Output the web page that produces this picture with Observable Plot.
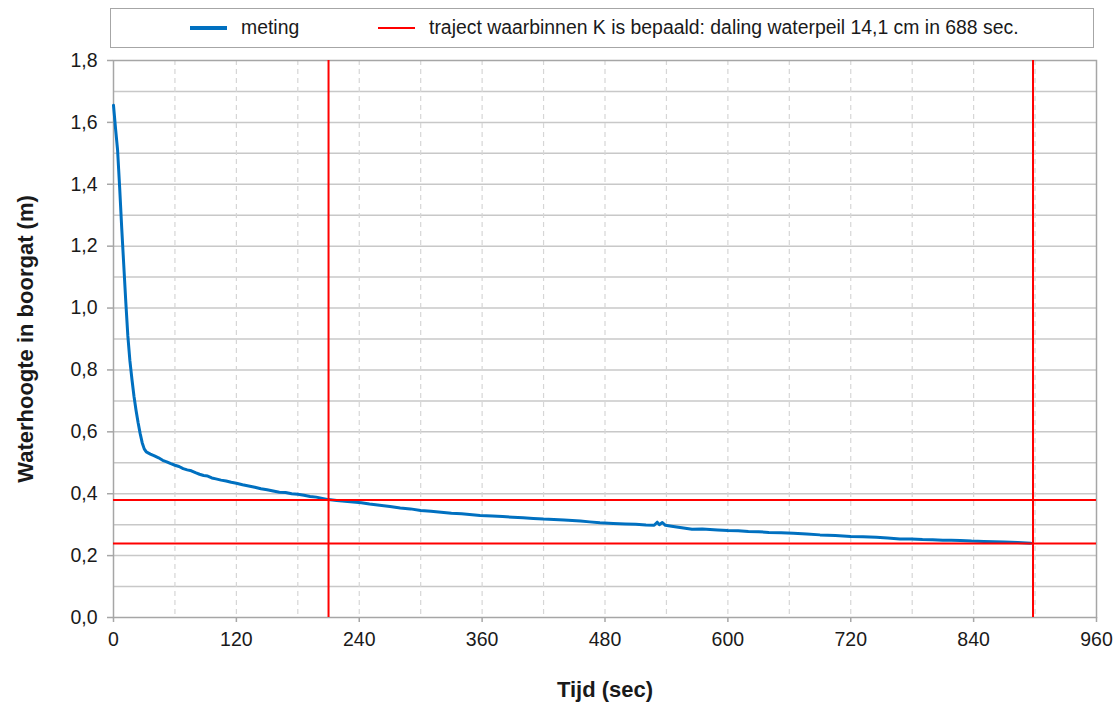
<!DOCTYPE html>
<html>
<head>
<meta charset="utf-8">
<script src="https://cdn.jsdelivr.net/npm/d3@7"></script>
<script src="https://cdn.jsdelivr.net/npm/@observablehq/plot@0.6"></script>
<style>
  html, body { margin: 0; padding: 0; background: #fff; }
  body { position: relative; width: 1120px; height: 713px; overflow: hidden; font-family: "Liberation Sans", Arial, sans-serif; color: #1a1a1a; }
  #chart { position: absolute; left: 0; top: 0; }
  #legend { position: absolute; left: 110px; top: 8px; width: 982px; height: 38px; border: 1.5px solid #a6a6a6; background: #fff; z-index: 2; }
  #legend .swatch { position: absolute; top: 19px; width: 37px; }
  #legend .label { position: absolute; top: 19px; transform: translateY(-50%); font-size: 19.4px; white-space: nowrap; line-height: 1; }
</style>
</head>
<body>
<div id="chart"></div>
<div id="legend">
  <div class="swatch" style="left:79px; border-top:4px solid #0070c0; margin-top:-2px;"></div>
  <div class="label" id="lab-meting" style="left:130px;"></div>
  <div class="swatch" style="left:267px; border-top:2px solid #ff0000; margin-top:-1px;"></div>
  <div class="label" id="lab-traject" style="left:318px;"></div>
</div>
<script>
// Measured water height in the borehole over time (seconds, metres)
const times = [
  0, 2, 4, 5, 6, 8, 10, 12, 14, 16, 18, 20, 22, 24, 26, 28, 30, 32, 36, 40,
  44, 48, 52, 56, 60, 64, 68, 72, 76, 80, 84, 88, 92, 96, 100, 105, 110, 115, 120, 126,
  132, 138, 144, 150, 156, 162, 168, 174, 180, 186, 192, 198, 204, 210, 218, 226, 234, 242, 250, 260,
  270, 280, 290, 300, 310, 320, 330, 340, 358, 370, 380, 390, 400, 410, 420, 430, 440, 456, 465, 475,
  488, 500, 510, 520, 528, 531, 533, 536, 539, 545, 555, 565, 575, 590, 600, 610, 620, 630, 640, 652,
  664, 677, 690, 705, 720, 732, 745, 756, 768, 779, 790, 800, 810, 818, 827, 838, 850, 860, 870, 883, 896
];
const heights = [
  1.655, 1.58, 1.51, 1.45, 1.39, 1.26, 1.14, 1.02, 0.91, 0.83, 0.77, 0.715, 0.67, 0.63, 0.595, 0.565, 0.545, 0.535, 0.528, 0.522,
  0.516, 0.508, 0.503, 0.497, 0.492, 0.488, 0.481, 0.477, 0.474, 0.468, 0.463, 0.459, 0.457, 0.451, 0.448, 0.444, 0.441, 0.437, 0.434, 0.429,
  0.425, 0.421, 0.416, 0.413, 0.409, 0.405, 0.404, 0.400, 0.398, 0.395, 0.391, 0.389, 0.385, 0.381, 0.378, 0.376, 0.373, 0.371, 0.367, 0.363,
  0.359, 0.354, 0.351, 0.346, 0.343, 0.340, 0.337, 0.335, 0.330, 0.328, 0.326, 0.324, 0.322, 0.320, 0.318, 0.317, 0.315, 0.312, 0.309, 0.306,
  0.304, 0.302, 0.301, 0.299, 0.298, 0.308, 0.300, 0.307, 0.298, 0.295, 0.290, 0.285, 0.286, 0.283, 0.281, 0.280, 0.278, 0.277, 0.275, 0.274,
  0.272, 0.270, 0.267, 0.265, 0.262, 0.261, 0.259, 0.257, 0.254, 0.254, 0.252, 0.251, 0.250, 0.250, 0.249, 0.247, 0.246, 0.245, 0.244, 0.242, 0.240
];

// Interval over which K was determined
const rangeStart = 210;       // sec
const rangeEnd = 898;         // sec (210 + 688)
const levelStart = 0.380;     // m
const levelEnd = 0.239;       // m (0.380 - 0.141)

// Axis ticks and grid positions
const xTicks = [0, 120, 240, 360, 480, 600, 720, 840, 960];
const xGrid = [60, 120, 180, 240, 300, 360, 420, 480, 540, 600, 660, 720, 780, 840, 900];
const yTicks = [0, 0.2, 0.4, 0.6, 0.8, 1.0, 1.2, 1.4, 1.6, 1.8];
const yGrid = [0.1, 0.2, 0.3, 0.4, 0.5, 0.6, 0.7, 0.8, 0.9, 1.0, 1.1, 1.2, 1.3, 1.4, 1.5, 1.6, 1.7];

// Text
const seriesLabel = "meting";
const rangeLabel = "traject waarbinnen K is bepaald: daling waterpeil 14,1 cm in 688 sec.";
const xTitle = "Tijd (sec)";
const yTitle = "Waterhoogte in boorgat (m)";

document.getElementById("lab-meting").textContent = seriesLabel;
document.getElementById("lab-traject").textContent = rangeLabel;

const data = times.map((t, i) => ({t, h: heights[i]}));
const commaDecimal = d => d.toFixed(1).replace(".", ",");

const chart = Plot.plot({
  width: 1120,
  height: 713,
  marginLeft: 113,
  marginRight: 24,
  marginTop: 60,
  marginBottom: 96,
  x: {domain: [0, 960]},
  y: {domain: [0, 1.8]},
  style: {fontFamily: "'Liberation Sans', Arial, sans-serif", fontSize: "19.5px", color: "#1a1a1a", background: "#fff"},
  marks: [
    Plot.ruleY(yGrid, {stroke: "#c8c8c8", strokeWidth: 1.5}),
    Plot.ruleX(xGrid, {stroke: "#d6d6d6", strokeWidth: 1.2, strokeDasharray: "5,4"}),
    Plot.frame({stroke: "#a6a6a6", strokeWidth: 1.5}),
    Plot.axisY(yTicks, {tickSize: 6, tickPadding: 10, tickFormat: commaDecimal, label: null, stroke: "#a6a6a6", fill: "#1a1a1a", strokeWidth: 1.5}),
    Plot.axisX(xTicks, {tickSize: 5, tickPadding: 10, tickFormat: d => String(d), label: null, stroke: "#a6a6a6", fill: "#1a1a1a", strokeWidth: 1.5}),
    Plot.line(data, {x: "t", y: "h", stroke: "#0070c0", strokeWidth: 3, strokeLinejoin: "round"}),
    Plot.ruleX([rangeStart, rangeEnd], {stroke: "#ff0000", strokeWidth: 2}),
    Plot.ruleY([levelStart, levelEnd], {stroke: "#ff0000", strokeWidth: 2}),
    Plot.text([xTitle], {frameAnchor: "bottom", dy: 79, textAnchor: "middle", fontWeight: "bold", fontSize: 22, fill: "#1a1a1a"}),
    Plot.text([yTitle], {frameAnchor: "left", dx: -88, rotate: -90, textAnchor: "middle", fontWeight: "bold", fontSize: 22, fill: "#1a1a1a"})
  ]
});
document.getElementById("chart").appendChild(chart);
</script>
</body>
</html>
